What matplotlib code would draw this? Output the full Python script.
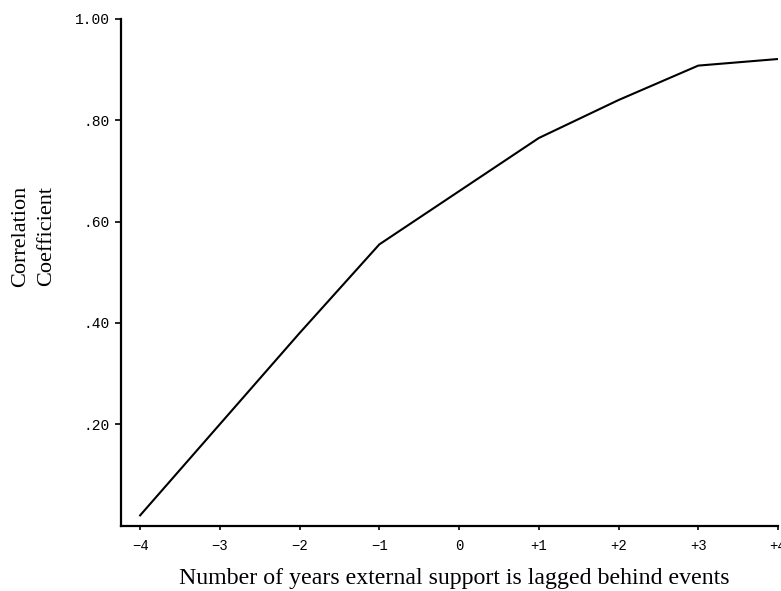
import matplotlib
matplotlib.use("Agg")
import matplotlib.pyplot as plt

lags = [-4, -3, -2, -1, 0, 1, 2, 3, 4]
corr = [0.02, 0.20, 0.38, 0.555, 0.66, 0.765, 0.84, 0.908, 0.921]
xtick_vals = [-4, -3, -2, -1, 0, 1, 2, 3, 4]
xtick_labels = ["\u22124", "\u22123", "\u22122", "\u22121", "0", "+1", "+2", "+3", "+4"]
ytick_vals = [0.20, 0.40, 0.60, 0.80, 1.00]
ytick_labels = [".20", ".40", ".60", ".80", "1.00"]

fig = plt.figure(figsize=(7.81, 5.91), dpi=100)
ax = fig.add_axes([121/781, 1-525.5/591, (778-121)/781, (525.5-19)/591])
ax.plot(lags, corr, color="black", lw=1.5)
ax.set_xlim(-4.24, 4)
ax.set_ylim(0, 1.0)
for s in ["top", "right"]:
    ax.spines[s].set_visible(False)
for s in ["left", "bottom"]:
    ax.spines[s].set_linewidth(1.6)
ax.set_xticks(xtick_vals)
ax.set_xticklabels(xtick_labels, family="Liberation Mono", fontsize=10)
ax.set_yticks(ytick_vals)
ax.set_yticklabels(ytick_labels, family="Liberation Mono", fontsize=10.5)
ax.tick_params(axis="x", direction="out", length=3, width=1.2, pad=7)
ax.tick_params(axis="y", direction="out", length=4, width=1.2, pad=4)
fig.text(454/781, 1-584/591, "Number of years external support is lagged behind events",
         family="Liberation Serif", fontsize=17.2, ha="center", va="baseline")
fig.text(34/781, 1-236/591, "Correlation\nCoefficient", family="Liberation Serif",
         fontsize=16, rotation=90, ha="center", va="center", linespacing=1.5)
fig.savefig("out.png", dpi=100)
